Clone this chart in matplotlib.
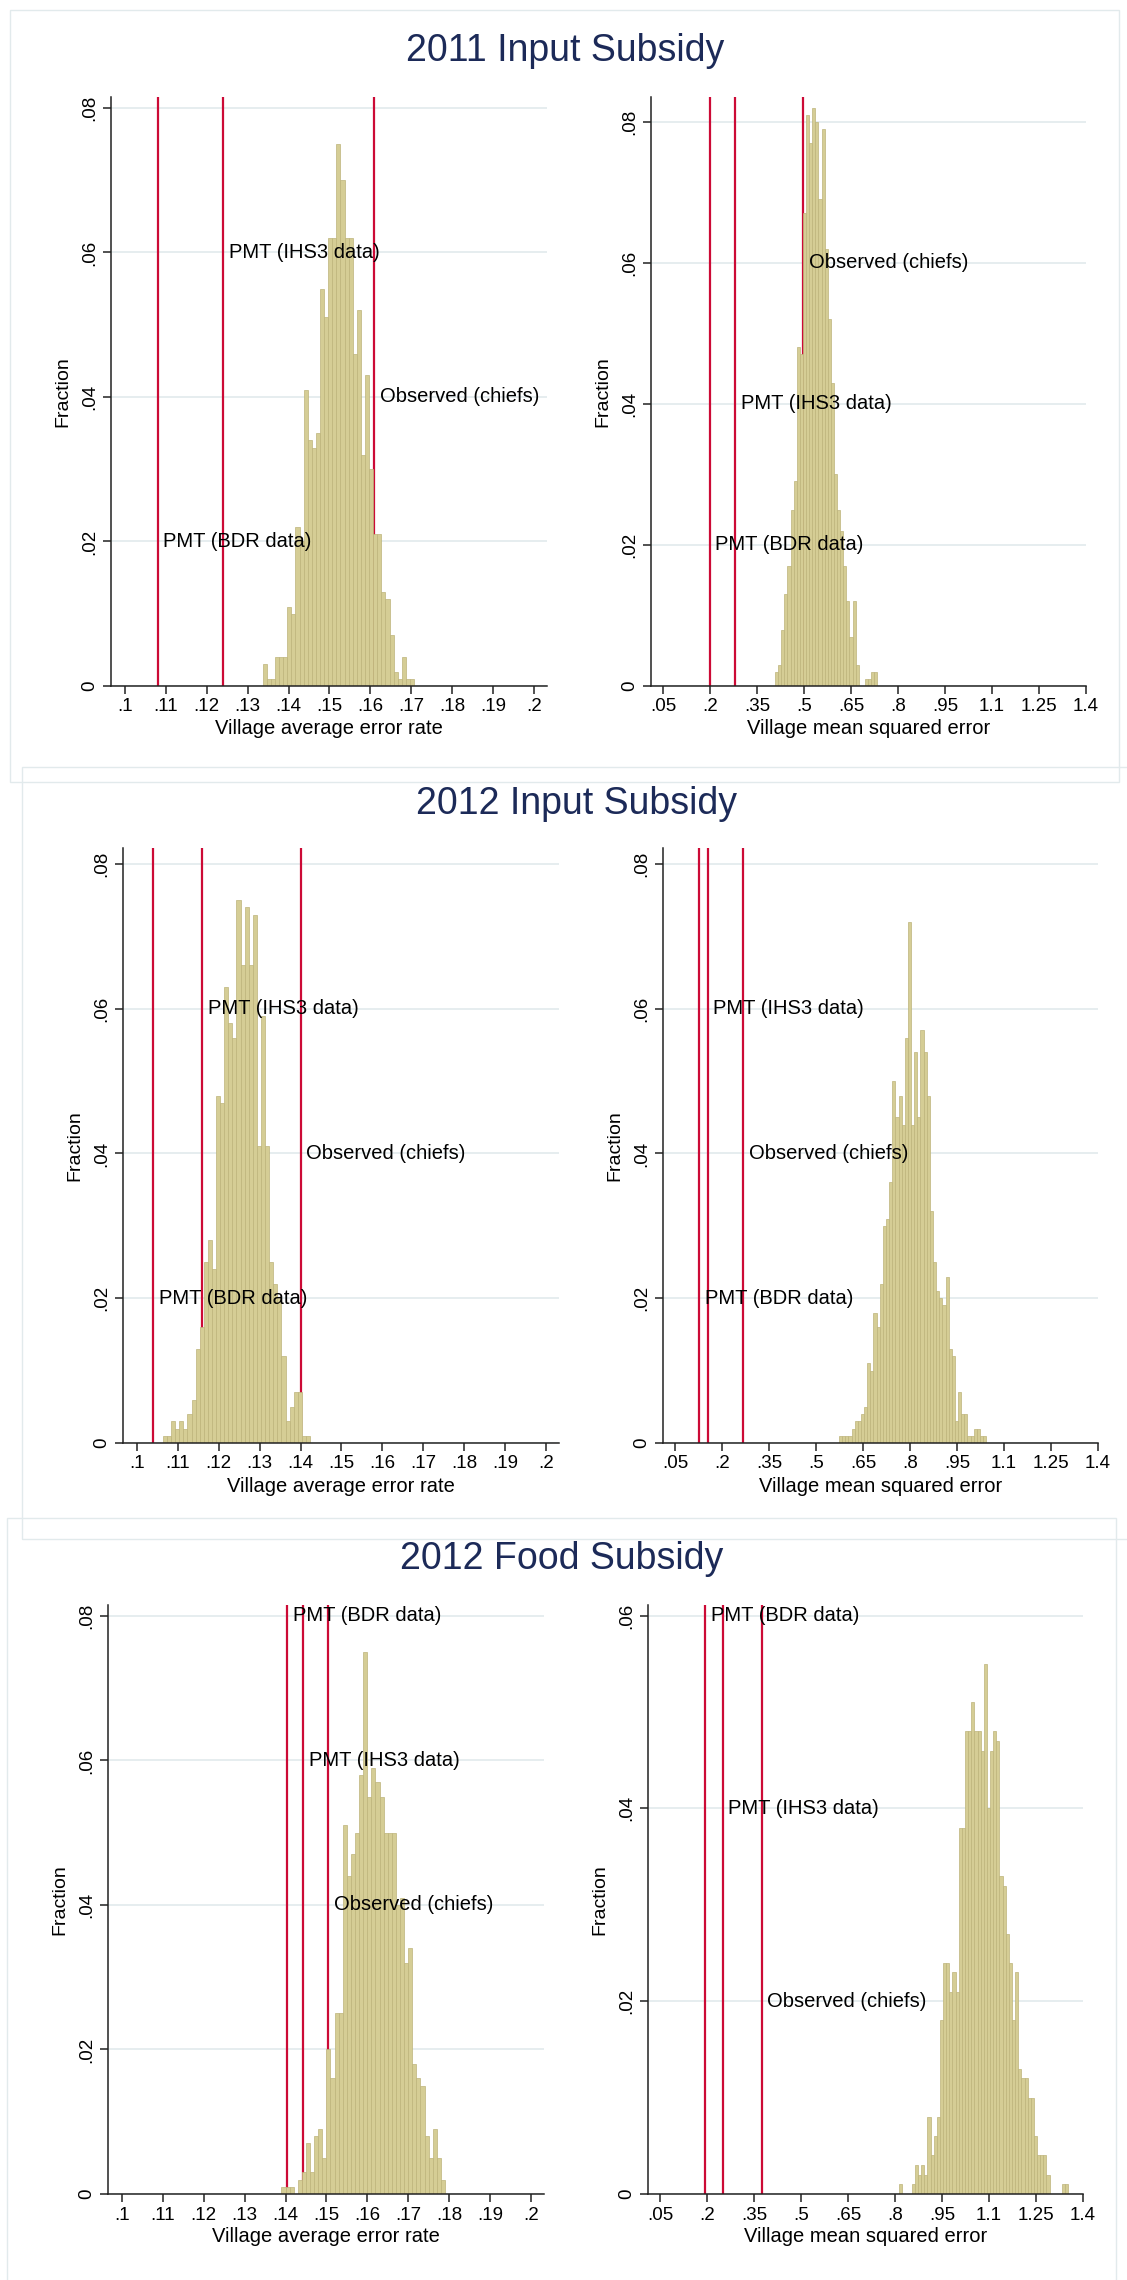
import numpy as np
import matplotlib
matplotlib.use("Agg")
from matplotlib import pyplot as plt
from matplotlib.patches import Rectangle

plt.rcParams['font.family'] = ['Liberation Sans', 'DejaVu Sans']

W, H = 1127, 2280

titles = ["2011 Input Subsidy", "2012 Input Subsidy", "2012 Food Subsidy"]
line_labels = ["PMT (BDR data)", "PMT (IHS3 data)", "Observed (chiefs)"]

# left column: village average error rate, fraction per bin
err_start = [0.1337, 0.10635, 0.1390]
err_width = [0.001, 0.001, 0.001]
err_2011 = [.003, .001, .001, .004, .004, .004, .011, .010, .022, .020, .041, .034, .033,
            .035, .055, .051, .062, .062, .075, .070, .062, .062, .046, .052, .032, .043,
            .030, .021, .021, .013, .012, .007, .002, .001, .004, .001, .001]
err_2012 = [.001, .001, .003, .002, .003, .002, .004, .006, .013, .016, .025, .028, .024,
            .048, .047, .063, .058, .056, .075, .066, .074, .066, .073, .041, .059, .041,
            .025, .022, .020, .012, .003, .005, .007, .007, .001, .001]
err_food = [.001, .001, .001, 0, .002, .003, .007, .003, .008, .009, .005, .020, .016, .025,
            .025, .051, .044, .047, .050, .058, .075, .055, .059, .057, .055, .050, .050,
            .050, .040, .041, .032, .034, .018, .016, .015, .008, .005, .009, .005, .002]
err_lines = [[0.108, 0.124, 0.161], [0.104, 0.116, 0.140], [0.1404, 0.1443, 0.1504]]
err_label_y = [[0.02, 0.06, 0.04], [0.02, 0.06, 0.04], [0.08, 0.06, 0.04]]

# right column: village mean squared error
mse_start = [0.4075, 0.5735, 0.8134]
mse_width = [0.0099, 0.01, 0.01]
mse_2011 = [.002, .003, .008, .013, .017, .025, .029, .048, .047, .067, .081, .077, .082,
            .080, .069, .079, .062, .052, .043, .030, .025, .022, .017, .012, .007, .012,
            .003, 0, 0, .001, .001, .002, .002]
mse_2012 = [.001, .001, .001, .001, .002, .003, .003, .004, .005, .011, .010, .018, .016,
            .022, .030, .031, .036, .050, .045, .048, .044, .056, .072, .044, .054, .045,
            .057, .054, .048, .032, .025, .021, .020, .019, .023, .013, .012, .003, .007,
            .004, .004, .001, .001, .002, .002, .001, .001]
mse_food = [.001, 0, 0, 0, .001, .003, .002, .003, .002, .008, .004, .006, .008, .018, .024,
            .024, .021, .023, .021, .038, .038, .048, .048, .051, .048, .048, .046, .055,
            .040, .046, .048, .047, .033, .032, .027, .024, .018, .023, .013, .012, .012,
            .010, .010, .006, .004, .004, .004, .002, 0, 0, 0, 0, .001, .001]
mse_lines = [[0.199, 0.281, 0.497], [0.127, 0.155, 0.267], [0.194, 0.250, 0.375]]
mse_label_y = [[0.02, 0.04, 0.06], [0.02, 0.06, 0.04], [0.06, 0.04, 0.02]]

err_xticks = [.1, .11, .12, .13, .14, .15, .16, .17, .18, .19, .2]
mse_xticks = [.05, .2, .35, .5, .65, .8, .95, 1.1, 1.25, 1.4]
yticks_08 = [0, .02, .04, .06, .08]
yticks_06 = [0, .02, .04, .06]

BAR = '#d5cd95'
BAR_EDGE = '#bdb47a'
RED = '#cc0a36'
GRID = '#e4ecee'
NAVY = '#1c2a58'


def fmt(v):
    s = f"{v:g}"
    return s[1:] if s.startswith("0.") else s


def px_axes(fig, x0, y0, x1, y1):
    return fig.add_axes([x0 / W, 1 - y1 / H, (x1 - x0) / W, (y1 - y0) / H])


def draw_panel(ax, start, width, heights, lines, label_y, xlim, ylim, xticks, yticks, xlabel):
    edges = start + width * np.arange(len(heights))
    ax.bar(edges, heights, width=width, align='edge', color=BAR,
           edgecolor=BAR_EDGE, linewidth=0.5, zorder=2)
    for x in lines:
        ax.axvline(x, color=RED, lw=1.6, zorder=1.5)
    for x, y, lab in zip(lines, label_y, line_labels):
        ax.annotate(lab, (x, y), xytext=(4, 0), textcoords='offset points',
                    ha='left', va='center', fontsize=14.5, zorder=4)
    ax.set_xlim(*xlim)
    ax.set_ylim(*ylim)
    ax.set_xticks(xticks, [fmt(v) for v in xticks])
    ax.set_yticks(yticks, [fmt(v) for v in yticks], rotation=90, va='center')
    ax.yaxis.grid(True, color=GRID, lw=1.3)
    ax.set_axisbelow(True)
    for s in ('top', 'right'):
        ax.spines[s].set_visible(False)
    for s in ('left', 'bottom'):
        ax.spines[s].set_linewidth(1.1)
        ax.spines[s].set_color('#222222')
    ax.tick_params(direction='out', length=6, width=1.1, labelsize=13.5, pad=3,
                   color='#222222')
    bb = ax.get_position()
    axw = bb.width * W
    axh = bb.height * H
    ax.set_ylabel('Fraction', fontsize=14)
    ax.yaxis.set_label_coords(-48 / axw, 0.5)
    ax.yaxis.label.set_va('center')
    ax.set_xlabel(xlabel, fontsize=14.5)
    ax.xaxis.set_label_coords(0.5, -43 / axh)
    ax.xaxis.label.set_va('center')


fig = plt.figure(figsize=(W / 100, H / 100), dpi=100)

rows = [
    dict(dx=0, top=97, bot=686, title_y=51, frame=(10, 10, 1109, 772),
         err=err_2011, mse=mse_2011, mse_top=.0835, mse_yt=yticks_08, err_top=.0815),
    dict(dx=12, top=848, bot=1443, title_y=804, frame=(22, 767, 1109, 772),
         err=err_2012, mse=mse_2012, mse_top=.0822, mse_yt=yticks_08, err_top=.0822),
    dict(dx=-3, top=1605, bot=2194, title_y=1559, frame=(7, 1518, 1109, 772),
         err=err_food, mse=mse_food, mse_top=.0611, mse_yt=yticks_06, err_top=.0815),
]

for i, r in enumerate(rows):
    fx, fy, fw, fh = r['frame']
    fig.patches.append(Rectangle((fx / W, 1 - (fy + fh) / H), fw / W, fh / H,
                                 transform=fig.transFigure, fill=False,
                                 edgecolor='#e2eaec', lw=1.0, zorder=0))
    dx = r['dx']
    fig.text((565 + dx) / W, 1 - r['title_y'] / H, titles[i], ha='center', va='center',
             fontsize=27, color=NAVY)

    axl = px_axes(fig, 111 + dx, r['top'], 547 + dx, r['bot'])
    draw_panel(axl, err_start[i], err_width[i], r['err'], err_lines[i], err_label_y[i],
               (.0966, .2032), (0, r['err_top']), err_xticks, yticks_08,
               'Village average error rate')

    axr = px_axes(fig, 651 + dx, r['top'], 1086 + dx, r['bot'])
    draw_panel(axr, mse_start[i], mse_width[i], r['mse'], mse_lines[i], mse_label_y[i],
               (.0117, 1.4), (0, r['mse_top']), mse_xticks, r['mse_yt'],
               'Village mean squared error')

fig.savefig('out.png', dpi=100, facecolor='white')
